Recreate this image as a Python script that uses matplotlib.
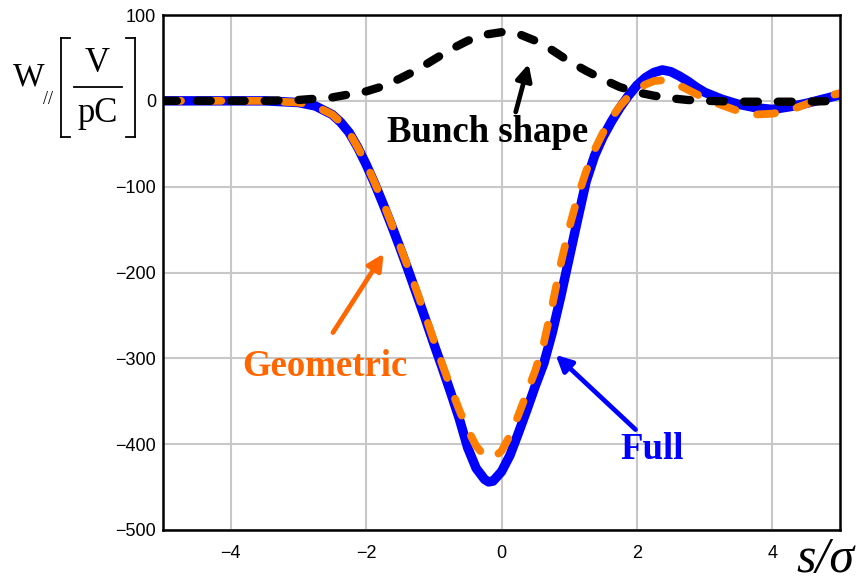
import matplotlib
matplotlib.use("Agg")
import matplotlib.pyplot as plt
from matplotlib.lines import Line2D

plt.rcParams['lines.scale_dashes'] = False

# Wake potential, full calculation
s_full = [-5, -4.5, -4, -3.5, -3.25, -3, -2.75, -2.5, -2.375, -2.25, -2.125, -2, -1.875,
          -1.75, -1.625, -1.5, -1.375, -1.25, -1.125, -1, -0.875, -0.75, -0.625, -0.5,
          -0.375, -0.25, -0.19, -0.125, 0, 0.125, 0.25, 0.375, 0.5, 0.625, 0.75, 0.875,
          1, 1.125, 1.25, 1.375, 1.5, 1.625, 1.75, 1.875, 2, 2.125, 2.25, 2.375, 2.5,
          2.625, 2.75, 2.875, 3, 3.25, 3.5, 3.75, 4, 4.25, 4.5, 4.75, 5]
w_full = [0, 0, 0, 0, -1, -2, -6, -16, -25, -37, -54, -74, -96,
          -120, -145, -171, -198, -226, -254, -283, -311, -340, -370, -404,
          -428, -441, -444, -443, -432, -413, -387, -360, -332, -306, -270, -228,
          -183, -138, -94, -64, -42, -24, -8, 6, 18, 27, 33, 36, 34,
          29, 23, 16, 10, 2, -4, -8, -10, -7, -3, 2, 7]

# Wake potential, geometric part only
s_geom = [-5, -4.5, -4, -3.5, -3.25, -3, -2.75, -2.5, -2.375, -2.25, -2.125, -2, -1.875,
          -1.75, -1.625, -1.5, -1.375, -1.25, -1.125, -1, -0.875, -0.75, -0.625, -0.5,
          -0.375, -0.25, -0.125, 0, 0.125, 0.25, 0.375, 0.5, 0.625, 0.75, 0.875,
          1, 1.125, 1.25, 1.375, 1.5, 1.625, 1.75, 1.875, 2, 2.125, 2.25, 2.375, 2.5,
          2.625, 2.75, 2.875, 3, 3.25, 3.5, 3.75, 4, 4.25, 4.5, 4.75, 5]
w_geom = [0, 0, 0, 0, -1, -2, -6, -16, -25, -37, -54, -73, -95,
          -118, -143, -169, -195, -222, -250, -279, -307, -334, -360, -383,
          -402, -414, -416, -408, -390, -366, -340, -314, -282, -238, -190,
          -148, -112, -82, -57, -37, -20, -6, 5, 13, 19, 23, 24, 22,
          18, 13, 8, 3, -5, -12, -16, -15, -11, -4, 4, 9]

# Bunch longitudinal profile (arbitrary scale)
s_bunch = [-5, -4.5, -4, -3.5, -3, -2.5, -2, -1.75, -1.5, -1.25, -1, -0.75, -0.5, -0.25,
           0, 0.25, 0.5, 0.75, 1, 1.25, 1.5, 1.75, 2, 2.25, 2.5, 2.75, 3, 3.5, 4, 4.5, 5]
w_bunch = [0, 0, 0, 0, 1, 4, 11, 17, 26, 36, 48, 60, 70, 77,
           80, 78, 70, 59, 46, 35, 25, 16, 10, 6, 3, 1, 0, -1, -1, -1, 0]

x_ticks = [-4, -2, 0, 2, 4]
y_ticks = [-500, -400, -300, -200, -100, 0, 100]

W, H = 857, 582
fig = plt.figure(figsize=(W / 100, H / 100), dpi=100)
ax = fig.add_axes([163 / W, 1 - 530 / H, (840 - 163) / W, (530 - 15) / H])


def fpx(x, y):
    return x / W, 1 - y / H


ax.plot(s_full, w_full, color='#0000FF', lw=6.8, solid_capstyle='round',
        solid_joinstyle='round', zorder=3)
ax.plot(s_geom, w_geom, color='#FF8000', lw=5.6, dashes=(13, 16),
        dash_capstyle='round', dash_joinstyle='round', zorder=4)
ax.plot(s_bunch, w_bunch, color='black', lw=6.0, dashes=(10, 14.4),
        dash_capstyle='round', dash_joinstyle='round', zorder=5)

ax.set_xlim(-5, 5)
ax.set_ylim(-500, 100)
ax.set_xticks(x_ticks)
ax.set_yticks(y_ticks)
ax.set_xticklabels([str(v).replace('-', '\u2212') for v in x_ticks])
ax.set_yticklabels([str(v).replace('-', '\u2212') for v in y_ticks])
ax.grid(True, color='#c8c8c8', lw=1.5, zorder=0)
ax.set_axisbelow(True)
ax.tick_params(length=0, labelsize=13, pad=5)
ax.tick_params(axis='x', pad=11)
for lab in ax.get_xticklabels() + ax.get_yticklabels():
    lab.set_fontfamily('Liberation Sans')
for sp in ax.spines.values():
    sp.set_linewidth(1.8)
    sp.set_zorder(6)

serif = 'Liberation Serif'
arrow_kw = dict(arrowstyle='-|>', lw=3.4, mutation_scale=24, shrinkA=0, shrinkB=0)

# Annotations
ax.annotate('', xy=(0.40, 43), xytext=(0.21, -13),
            arrowprops=dict(color='black', **arrow_kw), zorder=7)
ax.text(-0.21, -37, 'Bunch shape', fontsize=26.5, fontweight='bold', family=serif,
        ha='center', va='center', color='black', zorder=7)

ax.annotate('', xy=(-1.74, -178), xytext=(-2.49, -270),
            arrowprops=dict(color='#FF6600', **arrow_kw), zorder=7)
ax.text(-2.61, -310, 'Geometric', fontsize=26.5, fontweight='bold', family=serif,
        ha='center', va='center', color='#FF6600', zorder=7)

ax.annotate('', xy=(0.80, -296), xytext=(1.98, -383),
            arrowprops=dict(color='#0000FF', **arrow_kw), zorder=7)
ax.text(2.23, -406, 'Full', fontsize=26.5, fontweight='bold', family=serif,
        ha='center', va='center', color='#0000FF', zorder=7)

# Y-axis label: W_// [V / pC]
fig.text(*fpx(29, 77), 'W', fontsize=24, family=serif, ha='center', va='center')
fig.text(*fpx(48, 99), '//', fontsize=13, family=serif, ha='center', va='center')
fig.text(*fpx(97, 63), 'V', fontsize=25, family=serif, ha='center', va='center')
fig.text(*fpx(98, 113), 'pC', fontsize=25, family=serif, ha='center', va='center')
lines = [
    ([74, 122], [87, 87]),
    ([61, 61], [38, 137]), ([61, 70], [38, 38]), ([61, 70], [137, 137]),
    ([135, 135], [38, 137]), ([126, 135], [38, 38]), ([126, 135], [137, 137]),
]
for xs, ys in lines:
    fig.add_artist(Line2D([x / W for x in xs], [1 - y / H for y in ys],
                          color='black', lw=1.3))

# X-axis label
fig.text(*fpx(825, 560), 's/\u03c3', fontsize=36, family=serif, style='italic',
         ha='center', va='center')

fig.savefig('out.png', dpi=100)
